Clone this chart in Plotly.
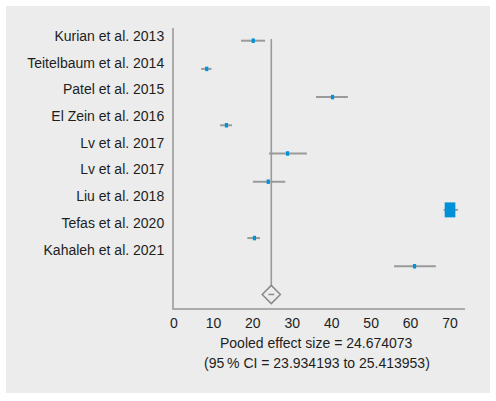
import plotly.graph_objects as go

studies = ["Kurian et al. 2013", "Teitelbaum et al. 2014", "Patel et al. 2015",
           "El Zein et al. 2016", "Lv et al. 2017", "Lv et al. 2017",
           "Liu et al. 2018", "Tefas et al. 2020", "Kahaleh et al. 2021"]
effect = [20.1, 8.3, 40.2, 13.3, 28.8, 23.9, 70.0, 20.4, 61.0]
ci_low = [17.0, 6.9, 36.0, 11.7, 24.1, 20.0, 68.4, 18.6, 55.8]
ci_high = [23.1, 9.5, 44.1, 14.7, 33.7, 28.2, 72.0, 21.8, 66.4]
weights = [1.0, 1.0, 1.0, 1.0, 1.0, 1.0, 11.1, 1.0, 1.0]
pooled = 24.674073
pooled_low = 23.934193
pooled_high = 25.413953
x_ticks = [0, 10, 20, 30, 40, 50, 60, 70]

FONT = "Liberation Sans, Arial, sans-serif"
TXT = "#1e1e1e"
BG = "#ebeceb"
GRAY = "#9a9a9a"
BLUE = "#0091d8"

W, H = 496, 401
L, R, T, B = 174, 31, 28, 93
pw, ph = W - L - R, H - T - B
xr = [0, 73.8]
yr = [9.48, -0.45]
px_per_x = pw / (xr[1] - xr[0])
px_per_y = ph / (yr[0] - yr[1])

fig = go.Figure()
n = len(studies)
for i in range(n):
    fig.add_trace(go.Scatter(x=[ci_low[i], ci_high[i]], y=[i, i], mode="lines",
                             line=dict(color=GRAY, width=2), hoverinfo="skip",
                             showlegend=False))
# pooled vertical line
diam_half_px = 9
pool_row = n
fig.add_trace(go.Scatter(x=[pooled, pooled], y=[-0.06, pool_row - diam_half_px / px_per_y],
                         mode="lines", line=dict(color=GRAY, width=1.6),
                         hoverinfo="skip", showlegend=False))
# diamond
fig.add_trace(go.Scatter(x=[pooled], y=[pool_row], mode="markers",
                         marker=dict(symbol="diamond", size=14, color=BG,
                                     line=dict(color="#8a8a8a", width=1.5)),
                         hoverinfo="skip", showlegend=False))
fig.add_trace(go.Scatter(x=[pooled_low, pooled_high], y=[pool_row, pool_row], mode="lines",
                         line=dict(color="#8a8a8a", width=1.5),
                         hoverinfo="skip", showlegend=False))
# label axis trace (invisible)
fig.add_trace(go.Scatter(x=[None], y=[None], yaxis="y2", showlegend=False))

shapes = [dict(type="rect", xref="paper", yref="paper",
               x0=(6 - L) / pw, x1=(490 - L) / pw,
               y0=(T + ph - 393) / ph, y1=(T + ph - 6) / ph,
               fillcolor=BG, line=dict(width=0), layer="below")]
for i in range(n):
    wpx = 3.2 * weights[i] ** 0.5
    hpx = 1.4 * wpx
    shapes.append(dict(type="rect", xref="x", yref="y",
                       x0=effect[i] - wpx / 2 / px_per_x, x1=effect[i] + wpx / 2 / px_per_x,
                       y0=i - hpx / 2 / px_per_y, y1=i + hpx / 2 / px_per_y,
                       fillcolor=BLUE, line=dict(width=0), layer="above"))

lab_top, lab_step = 36, 26.7
y2r = [(T + ph - lab_top) / lab_step, (T - lab_top) / lab_step]

fig.update_layout(
    width=W, height=H, margin=dict(l=L, r=R, t=T, b=B),
    paper_bgcolor="white", plot_bgcolor="rgba(0,0,0,0)",
    font=dict(family=FONT, size=14, color=TXT),
    shapes=shapes,
    xaxis=dict(range=xr, tickvals=x_ticks, showgrid=False, zeroline=False,
               showline=True, linecolor="#ababab", linewidth=2,
               ticks="outside", ticklen=1, tickcolor="rgba(0,0,0,0)",
               tickfont=dict(family=FONT, size=14, color=TXT)),
    yaxis=dict(range=yr, showticklabels=False, showgrid=False, zeroline=False,
               showline=True, linecolor="#ababab", linewidth=2, ticks=""),
    yaxis2=dict(range=y2r, overlaying="y", side="left",
                tickvals=list(range(n)), ticktext=studies,
                showgrid=False, zeroline=False, showline=False,
                ticks="outside", ticklen=6, tickcolor="rgba(0,0,0,0)",
                tickfont=dict(family=FONT, size=14, color=TXT)),
    annotations=[
        dict(text="Pooled effect size = 24.674073", xref="paper", yref="paper",
             x=(316.7 - L) / pw, y=(T + ph - 342.7) / ph, showarrow=False,
             xanchor="center", yanchor="middle", font=dict(family=FONT, size=14, color=TXT)),
        dict(text="(95\u2009% CI = 23.934193 to 25.413953)", xref="paper", yref="paper",
             x=(316.7 - L) / pw, y=(T + ph - 362.7) / ph, showarrow=False,
             xanchor="center", yanchor="middle", font=dict(family=FONT, size=14, color=TXT)),
    ],
)

fig.write_html("out.html")
